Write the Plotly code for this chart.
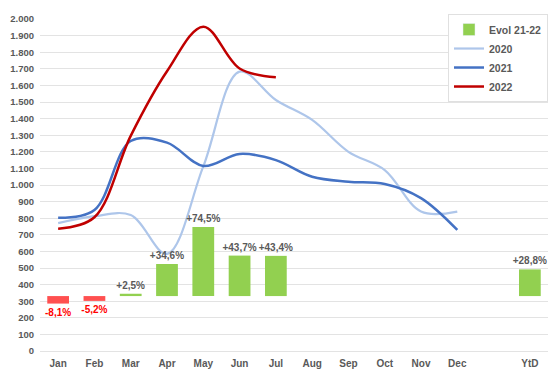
import plotly.graph_objects as go

months = ["Jan", "Feb", "Mar", "Apr", "May", "Jun", "Jul", "Aug", "Sep", "Oct", "Nov", "Dec"]
categories = months + [" ", "YtD"]

sales_2020 = [770, 812, 819, 585, 1112, 1683, 1512, 1392, 1200, 1090, 840, 840]
sales_2021 = [803, 850, 1265, 1255, 1115, 1187, 1150, 1050, 1020, 1006, 921, 729]
sales_2022 = [737, 806, 1296, 1685, 1954, 1702, 1649]

evol_cats = ["Jan", "Feb", "Mar", "Apr", "May", "Jun", "Jul", "YtD"]
evol_pct = [-8.1, -5.2, 2.5, 34.6, 74.5, 43.7, 43.4, 28.8]

gray = "#595959"
font_family = "Liberation Sans, Arial, sans-serif"
green = "#92d050"

evol_text = [f"{v:+.1f}%".replace(".", ",") for v in evol_pct]

fig = go.Figure()

fig.add_trace(go.Bar(
    x=evol_cats, y=evol_pct, name="Evol 21-22", yaxis="y2",
    marker=dict(color=[green if v >= 0 else "#ff5050" for v in evol_pct], line=dict(width=0)),
    text=evol_text, textposition="outside", cliponaxis=False, constraintext="none",
    textfont=dict(size=10, family=font_family, weight="bold",
                  color=[gray if v >= 0 else "#ff0000" for v in evol_pct]),
    showlegend=False,
))
# legend entry for the bars (green)
fig.add_trace(go.Bar(
    x=[None], y=[None], name="Evol 21-22", yaxis="y2",
    marker=dict(color=green), showlegend=True,
))
fig.add_trace(go.Scatter(
    x=months, y=sales_2020, name="2020", mode="lines",
    line=dict(color="#aec6ea", width=2.2, shape="spline", smoothing=1.0),
))
fig.add_trace(go.Scatter(
    x=months, y=sales_2021, name="2021", mode="lines",
    line=dict(color="#4472c4", width=2.5, shape="spline", smoothing=1.0),
))
fig.add_trace(go.Scatter(
    x=months[:len(sales_2022)], y=sales_2022, name="2022", mode="lines",
    line=dict(color="#c00000", width=2.5, shape="spline", smoothing=1.0),
))

fig.update_layout(
    width=557, height=379,
    margin=dict(l=40, r=9, t=19, b=28),
    paper_bgcolor="white", plot_bgcolor="white",
    font=dict(family=font_family, size=10, color=gray),
    separators=",.",
    bargap=0.4,
    barmode="overlay",
    xaxis=dict(
        type="category", categoryorder="array", categoryarray=categories,
        range=[-0.5, len(categories) - 0.5],
        showgrid=False, showline=False, ticks="", automargin=False, ticklabelstandoff=5,
        tickfont=dict(size=10, family=font_family, color=gray, weight="bold"),
    ),
    yaxis=dict(
        range=[0, 2000], tickvals=list(range(0, 2001, 100)), tickformat=",d",
        showgrid=True, gridcolor="#e3e3e3", gridwidth=1,
        zeroline=True, zerolinecolor="#e3e3e3", zerolinewidth=1,
        showline=False, ticks="", automargin=False, ticklabelstandoff=5,
        tickfont=dict(size=9.5, family=font_family, color=gray, weight="bold"),
    ),
    yaxis2=dict(
        overlaying="y", side="right", range=[-59.3, 299.1],
        visible=False, showgrid=False, zeroline=False, automargin=False,
    ),
    legend=dict(
        x=1.0, y=1.015, xanchor="right", yanchor="top",
        bgcolor="white", bordercolor="#e0e0e0", borderwidth=1,
        font=dict(size=10.5, family=font_family, color=gray, weight="bold"),
        tracegroupgap=0, itemwidth=30,
    ),
    showlegend=True,
)

fig.write_html("out.html", config={"displayModeBar": False},
               post_script="document.body.style.margin='0px';")
